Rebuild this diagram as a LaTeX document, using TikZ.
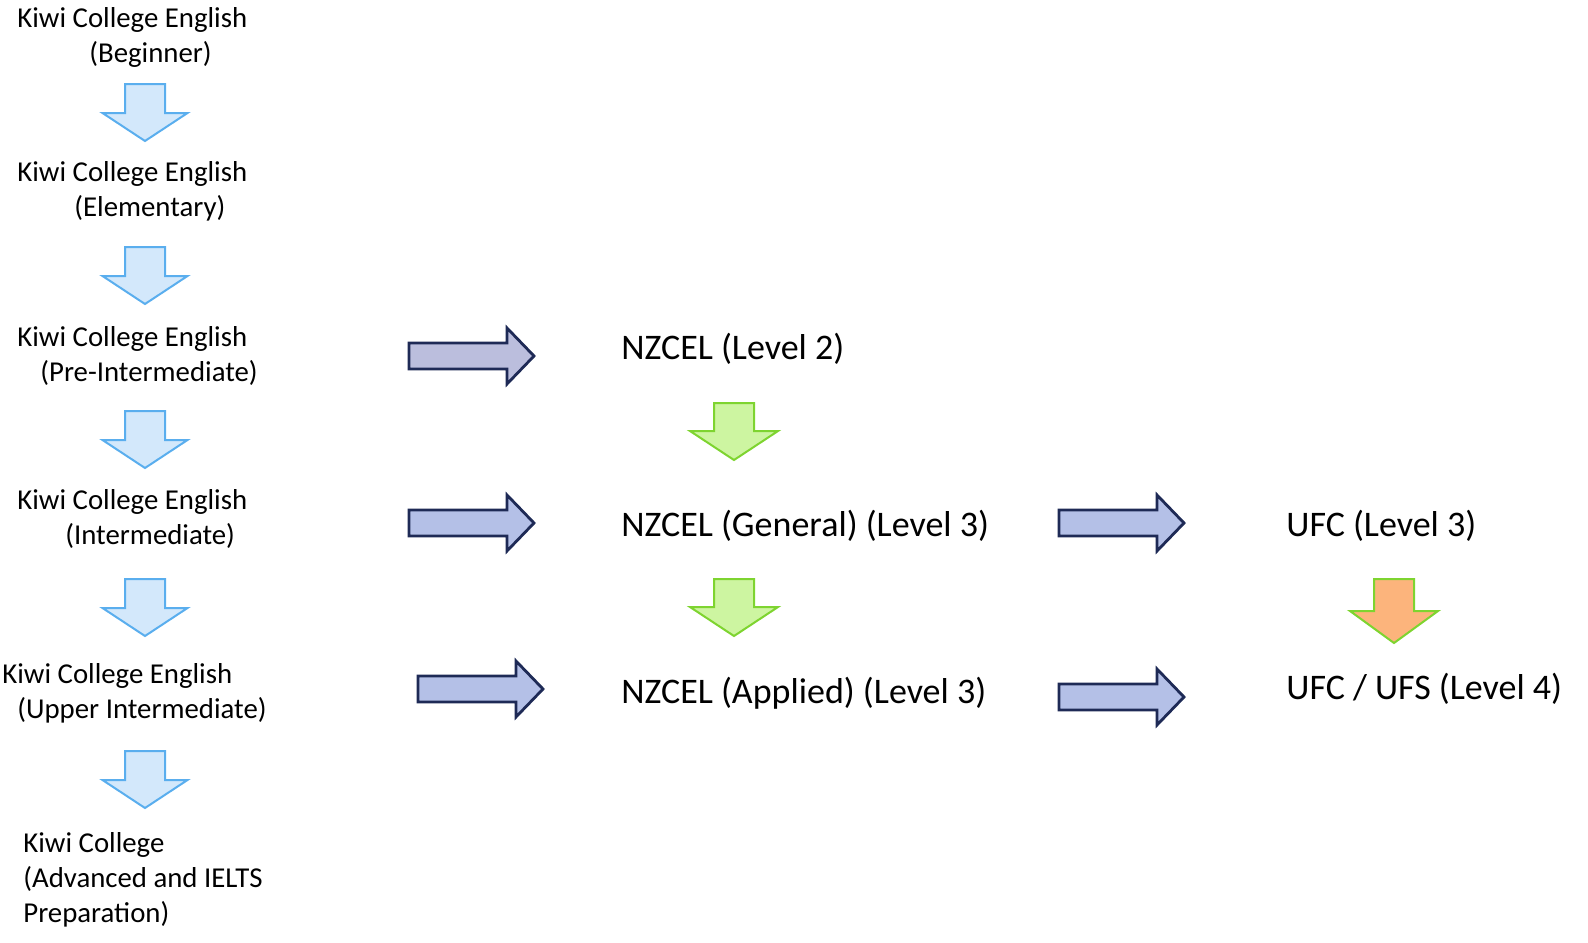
\documentclass[tikz,border=0pt]{standalone}
\usepackage{fontspec}
\setmainfont{Carlito}
\usetikzlibrary{positioning}
\definecolor{kiwifill}{HTML}{D3E8FB}
\definecolor{kiwiline}{HTML}{5AAEEE}
\definecolor{pathfill}{HTML}{B4C0E7}
\definecolor{pathfirst}{HTML}{BBBEDD}
\definecolor{pathline}{HTML}{1E2A56}
\definecolor{nzfill}{HTML}{CDF5A1}
\definecolor{nzline}{HTML}{7ED430}
\definecolor{ufcfill}{HTML}{FCB47C}
\tikzset{
  kiwilabel/.style={anchor=west, inner sep=0pt, align=left, font=\fontsize{14.4}{17.5}\selectfont},
  pathlabel/.style={anchor=west, inner sep=0pt, font=\fontsize{18}{22}\selectfont},
  downblue/.pic={\draw[draw=kiwiline, fill=kiwifill, line width=1pt] (-20,0) -- (20,0) -- (20,29) -- (42.5,29) -- (0,57) -- (-42.5,29) -- (-20,29) -- cycle;},
  downgreen/.pic={\draw[draw=nzline, fill=nzfill, line width=1pt] (-20,0) -- (20,0) -- (20,28) -- (44,28) -- (0,57) -- (-44,28) -- (-20,28) -- cycle;},
  downorange/.pic={\draw[draw=nzline, fill=ufcfill, line width=1pt] (-20,0) -- (20,0) -- (20,32) -- (44,32) -- (0,64) -- (-44,32) -- (-20,32) -- cycle;},
  rightarr/.pic={\draw[draw=pathline, fill=#1, line width=1.4pt] (0,-13) -- (98,-13) -- (98,-28) -- (125,0) -- (98,28) -- (98,13) -- (0,13) -- cycle;},
}
\begin{document}
\begin{tikzpicture}[x=0.5pt, y=-0.5pt]
    \useasboundingbox (0,0) rectangle (1588,942);
    % left column
    \node[kiwilabel] (beginner) at (17,37.5) {Kiwi College English\\\hspace*{36pt}(Beginner)};
    \node[kiwilabel] (elementary) at (17,191.5) {Kiwi College English\\\hspace*{28.5pt}(Elementary)};
    \node[kiwilabel] (preint) at (17,356) {Kiwi College English\\\hspace*{11.5pt}(Pre-Intermediate)};
    \node[kiwilabel] (inter) at (17,519) {Kiwi College English\\\hspace*{24pt}(Intermediate)};
    \node[kiwilabel] (upper) at (2,693.5) {Kiwi College English\\\hspace*{7.5pt}(Upper Intermediate)};
    \node[kiwilabel] (advanced) at (23,880) {Kiwi College\\(Advanced and IELTS\\Preparation)};
    \foreach \y in {84,247,411,579,751}
        \pic at (145,\y) {downblue};
    % NZCEL column
    \node[pathlabel] (nzlevel2) at (621,349) {NZCEL (Level 2)};
    \node[pathlabel] (nzgeneral) at (621,526) {NZCEL (General) (Level 3)};
    \node[pathlabel] (nzapplied) at (621,693) {NZCEL (Applied) (Level 3)};
    \pic at (734,403) {downgreen};
    \pic at (734,579) {downgreen};
    % UFC column
    \node[pathlabel] (ufc3) at (1286,526) {UFC (Level 3)};
    \node[pathlabel] (ufc4) at (1286,689) {UFC / UFS (Level 4)};
    \pic at (1394,579) {downorange};
    % right arrows
    \pic at (409,356) {rightarr=pathfirst};
    \pic at (409,523) {rightarr=pathfill};
    \pic at (418,689) {rightarr=pathfill};
    \pic at (1059,523) {rightarr=pathfill};
    \pic at (1059,697) {rightarr=pathfill};
\end{tikzpicture}
\end{document}
